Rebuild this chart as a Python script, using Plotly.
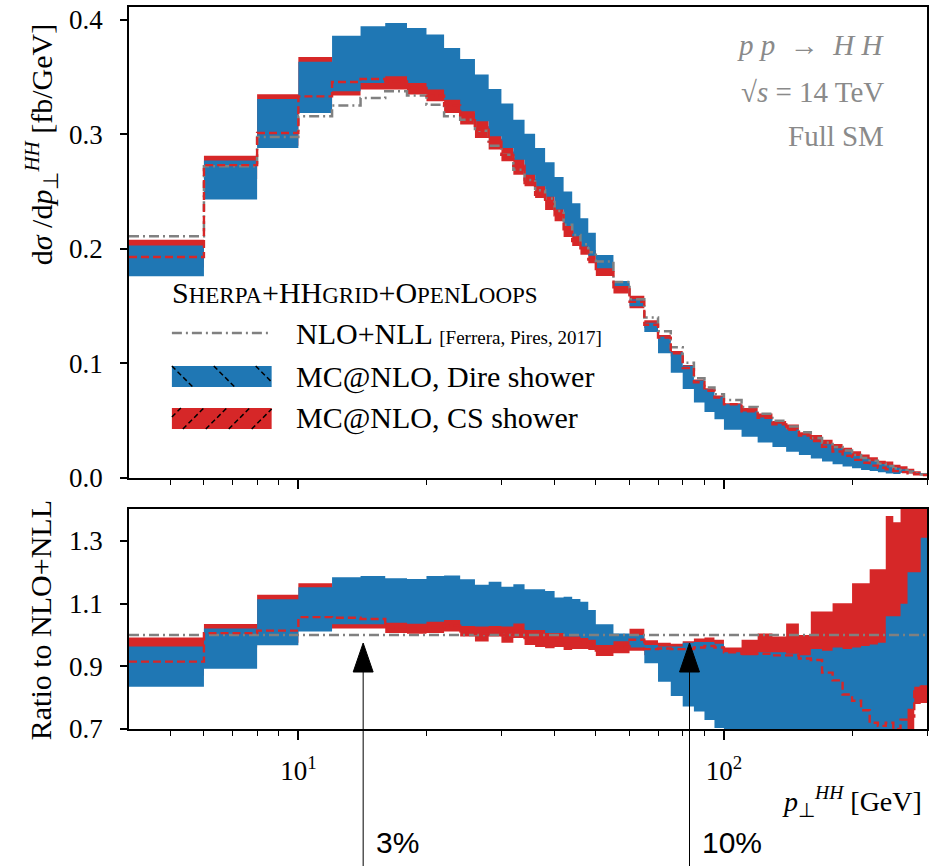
import math
import plotly.graph_objects as go

# ---------------------------------------------------------------- data
# bin edges in p_T^HH [GeV]
pt_edges = [4, 6, 8, 10, 12, 14, 16, 18, 20, 22, 24, 26, 28, 30, 32, 34, 36, 38, 40,
            42, 44, 46, 48, 50, 55, 60, 65, 70, 75, 80, 85, 90, 95, 100, 110, 120,
            130, 140, 150, 160, 170, 180, 190, 200, 210, 220, 230, 240, 250, 260,
            270, 280, 290, 300]

# NLO+NLL reference [fb/GeV]
nll_xsec = [0.211, 0.272, 0.2976, 0.3156, 0.325, 0.3316, 0.3375, 0.3337, 0.3258, 0.3156,
            0.3127, 0.303, 0.290, 0.282, 0.269, 0.260, 0.251, 0.244, 0.233, 0.221,
            0.212, 0.204, 0.197, 0.189, 0.171, 0.156, 0.140, 0.128, 0.114, 0.1005,
            0.087, 0.079, 0.073, 0.068, 0.062, 0.056, 0.050, 0.045, 0.040, 0.035,
            0.031, 0.027, 0.024, 0.020, 0.0175, 0.015, 0.0125, 0.0105, 0.0085, 0.007,
            0.0055, 0.004, 0.003]

# MC@NLO + Dire shower, uncertainty band [fb/GeV]
dire_hi = [0.2028, 0.277, 0.3308, 0.3633, 0.386, 0.3942, 0.397, 0.3927, 0.387, 0.3753,
           0.3657, 0.352, 0.3395, 0.3267, 0.3127, 0.3005, 0.288, 0.2755, 0.2627, 0.250,
           0.2398, 0.2266, 0.214, 0.1945, 0.1719, 0.156, 0.1355, 0.1233, 0.1098, 0.098,
           0.0851, 0.0773, 0.071, 0.0643, 0.058, 0.0529, 0.0473, 0.0423, 0.0374, 0.0334,
           0.0295, 0.0259, 0.0229, 0.0192, 0.0169, 0.0146, 0.0122, 0.0111, 0.009, 0.0077,
           0.0066, 0.0048, 0.0039]
dire_lo = [0.176, 0.243, 0.288, 0.3186, 0.3375, 0.3447, 0.3506, 0.3447, 0.339, 0.330,
           0.320, 0.3113, 0.2982, 0.288, 0.2778, 0.2647, 0.2546, 0.2455, 0.2344, 0.2199,
           0.2109, 0.202, 0.194, 0.183, 0.1676, 0.1498, 0.1274, 0.1089, 0.0918, 0.0776,
           0.0658, 0.0576, 0.0513, 0.042, 0.036, 0.031, 0.027, 0.023, 0.020, 0.017,
           0.0145, 0.012, 0.010, 0.0085, 0.007, 0.006, 0.005, 0.004, 0.0035, 0.0045,
           0.0042, 0.0033, 0.0025]

# MC@NLO + CS shower, uncertainty band and central value [fb/GeV]
cs_hi = [0.208, 0.2813, 0.3348, 0.3674, 0.354, 0.358, 0.361, 0.355, 0.3486, 0.3393,
         0.3315, 0.318, 0.307, 0.296, 0.285, 0.270, 0.261, 0.251, 0.240, 0.2254,
         0.2162, 0.207, 0.199, 0.187, 0.170, 0.159, 0.1376, 0.1248, 0.1108, 0.0985,
         0.086, 0.0784, 0.0719, 0.0653, 0.0611, 0.0563, 0.0498, 0.0467, 0.040, 0.0376,
         0.0333, 0.0297, 0.0264, 0.0233, 0.0204, 0.0182, 0.0151, 0.0145, 0.0116, 0.0102,
         0.008, 0.0058, 0.0044]
cs_lo = [0.1836, 0.261, 0.290, 0.322, 0.3337, 0.339, 0.339, 0.3346, 0.3287, 0.3186,
         0.3084, 0.2967, 0.2866, 0.2764, 0.2647, 0.2546, 0.2444, 0.2338, 0.2241, 0.2104,
         0.2025, 0.1948, 0.1875, 0.1763, 0.161, 0.1482, 0.1309, 0.119, 0.106, 0.094,
         0.0818, 0.0747, 0.0686, 0.0626, 0.0564, 0.051, 0.045, 0.0405, 0.0352, 0.0301,
         0.0257, 0.0216, 0.0182, 0.0148, 0.0124, 0.0102, 0.0084, 0.0069, 0.0056, 0.0048,
         0.0039, 0.0031, 0.0023]
cs_mid = [0.1929, 0.273, 0.3011, 0.333, 0.3456, 0.3482, 0.346, 0.3404, 0.3336, 0.325,
          0.3165, 0.3039, 0.2935, 0.282, 0.2725, 0.2574, 0.2472, 0.2391, 0.2293, 0.215,
          0.2067, 0.1983, 0.1907, 0.1796, 0.1645, 0.1537, 0.1337, 0.1225, 0.1089, 0.096,
          0.0835, 0.0762, 0.0701, 0.0643, 0.0583, 0.0526, 0.0468, 0.0421, 0.037, 0.0322,
          0.0273, 0.0231, 0.0194, 0.0158, 0.0133, 0.0108, 0.0089, 0.0076, 0.006, 0.0051,
          0.0041, 0.0033, 0.0025]

# ratios to NLO+NLL
dire_hi_ratio = [0.963, 1.021, 1.114, 1.152, 1.184, 1.188, 1.181, 1.179, 1.188, 1.190,
                 1.178, 1.160, 1.170, 1.154, 1.162, 1.146, 1.146, 1.140, 1.120, 1.122,
                 1.115, 1.106, 1.080, 1.034, 1.005, 1.000, 0.968, 0.963, 0.963, 0.975,
                 0.978, 0.978, 0.972, 0.945, 0.935, 0.945, 0.945, 0.940, 0.935, 0.955,
                 0.950, 0.960, 0.955, 0.960, 0.965, 0.970, 0.975, 1.060, 1.060, 1.100,
                 1.200, 1.200, 1.310]
dire_lo_ratio = [0.835, 0.892, 0.967, 1.011, 1.034, 1.034, 1.039, 1.036, 1.042, 1.048,
                 1.029, 1.027, 1.029, 1.027, 1.037, 1.016, 1.016, 1.006, 1.006, 0.995,
                 0.995, 0.990, 0.985, 0.968, 0.980, 0.960, 0.910, 0.851, 0.805, 0.772,
                 0.756, 0.729, 0.703, 0.62, 0.58, 0.55, 0.54, 0.51, 0.50, 0.49,
                 0.47, 0.44, 0.42, 0.43, 0.40, 0.40, 0.40, 0.38, 0.41, 0.66,
                 0.765, 0.835, 0.840]
cs_hi_ratio = [0.992, 1.035, 1.128, 1.165, 1.090, 1.080, 1.070, 1.065, 1.070, 1.075,
               1.060, 1.050, 1.060, 1.050, 1.060, 1.040, 1.040, 1.030, 1.030, 1.020,
               1.020, 1.015, 1.010, 0.990, 0.995, 1.020, 0.983, 0.975, 0.972, 0.980,
               0.989, 0.992, 0.985, 0.960, 0.985, 1.005, 0.995, 1.037, 1.000, 1.075,
               1.075, 1.101, 1.101, 1.165, 1.165, 1.210, 1.210, 1.380, 1.360, 1.450,
               1.450, 1.450, 1.450]
cs_lo_ratio = [0.870, 0.960, 0.975, 1.020, 1.021, 1.021, 1.006, 1.004, 1.006, 1.011,
               0.995, 0.979, 0.995, 0.975, 0.990, 0.968, 0.962, 0.958, 0.962, 0.952,
               0.955, 0.955, 0.952, 0.933, 0.942, 0.950, 0.935, 0.930, 0.930, 0.935,
               0.940, 0.945, 0.940, 0.920, 0.910, 0.910, 0.900, 0.900, 0.880, 0.860,
               0.830, 0.800, 0.760, 0.740, 0.710, 0.680, 0.670, 0.660, 0.660, 0.680,
               0.700, 0.780, 0.783]
cs_mid_ratio = [0.915, 1.006, 1.014, 1.057, 1.055, 1.051, 1.025, 1.020, 1.024, 1.030,
                1.012, 1.003, 1.012, 1.000, 1.013, 0.990, 0.985, 0.980, 0.984, 0.973,
                0.975, 0.972, 0.968, 0.950, 0.962, 0.985, 0.955, 0.957, 0.955, 0.955,
                0.960, 0.965, 0.960, 0.945, 0.940, 0.940, 0.935, 0.935, 0.925, 0.920,
                0.880, 0.855, 0.810, 0.790, 0.760, 0.720, 0.710, 0.720, 0.700, 0.730,
                0.740, 0.825, 0.835]
nll_ratio = [1.0] * len(nll_xsec)

# markers below the ratio panel
marker_pt = [14.2, 83.0]
marker_text = ["3%", "10%"]

# ---------------------------------------------------------------- style
BLUE = "#1f77b4"
RED = "#d62728"
GREY = "#808080"
TXT_GREY = "#8a8a8a"
SERIF = "Liberation Serif"
SANS = "Liberation Sans"

W, H = 933, 866
ML, MR, MT, MB = 129, 4, 7, 137
PW, PH = W - ML - MR, H - MT - MB
XMIN, XMAX = 4, 300


def fx(px):
    return (px - ML) / PW


def fy(py):
    return (H - MB - py) / PH


def xfrac(v):
    return (math.log10(v) - math.log10(XMIN)) / (math.log10(XMAX) - math.log10(XMIN))


def stepped(vals):
    return list(vals) + [vals[-1]]


fig = go.Figure()


def add_panel(xa, ya, c_lo, c_hi, d_lo, d_hi, ref, c_mid):
    common = dict(x=pt_edges, mode="lines", xaxis=xa, yaxis=ya, hoverinfo="skip")
    fig.add_trace(go.Scatter(y=stepped(c_lo), line=dict(width=0, shape="hv", color=RED), **common))
    fig.add_trace(go.Scatter(y=stepped(c_hi), line=dict(width=0, shape="hv", color=RED),
                             fill="tonexty", fillcolor=RED, **common))
    fig.add_trace(go.Scatter(y=stepped(d_lo), line=dict(width=0, shape="hv", color=BLUE), **common))
    fig.add_trace(go.Scatter(y=stepped(d_hi), line=dict(width=0, shape="hv", color=BLUE),
                             fill="tonexty", fillcolor=BLUE, **common))
    fig.add_trace(go.Scatter(y=stepped(ref), line=dict(width=2.5, shape="hv", color=GREY,
                                                       dash="10px,4px,2px,4px"), **common))
    fig.add_trace(go.Scatter(y=stepped(c_mid), line=dict(width=2.4, shape="hv", color=RED,
                                                         dash="8px,4px"), **common))


add_panel("x", "y", cs_lo, cs_hi, dire_lo, dire_hi, nll_xsec, cs_mid)
add_panel("x2", "y2", cs_lo_ratio, cs_hi_ratio, dire_lo_ratio, dire_hi_ratio, nll_ratio, cs_mid_ratio)

minor_vals = [5, 6, 7, 8, 9, 20, 30, 40, 50, 60, 70, 80, 90, 200, 300]
xcommon = dict(type="log", range=[math.log10(XMIN), math.log10(XMAX)], domain=[0, 1],
               tickvals=[10, 100], ticks="outside", ticklen=9, tickwidth=1.5,
               tickcolor="black", showline=True, linecolor="black", linewidth=1.5,
               mirror=True, showgrid=False, zeroline=False,
               minor=dict(tickvals=minor_vals, ticks="outside", ticklen=5,
                          tickwidth=1.2, tickcolor="black", showgrid=False))
ycommon = dict(ticks="outside", ticklen=7, tickwidth=1.5, tickcolor="black",
               showline=True, linecolor="black", linewidth=1.5, mirror=True,
               showgrid=False, zeroline=False, ticklabelstandoff=12,
               tickfont=dict(family=SERIF, size=27, color="black"))

fig.update_layout(
    width=W, height=H,
    margin=dict(l=ML, r=MR, t=MT, b=MB),
    plot_bgcolor="white", paper_bgcolor="white",
    showlegend=False,
    font=dict(family=SERIF, size=27, color="black"),
    xaxis=dict(anchor="y", showticklabels=False, **xcommon),
    yaxis=dict(domain=[fy(478), 1.0], range=[0, 0.411],
               tickvals=[0, 0.1, 0.2, 0.3, 0.4],
               ticktext=["0.0", "0.1", "0.2", "0.3", "0.4"], **ycommon),
    xaxis2=dict(anchor="y2", ticktext=["10<sup>1</sup>", "10<sup>2</sup>"],
                tickfont=dict(family=SERIF, size=27, color="black"),
                ticklabelstandoff=8, **xcommon),
    yaxis2=dict(domain=[0, fy(509)], range=[0.7, 1.402],
                tickvals=[0.7, 0.9, 1.1, 1.3],
                ticktext=["0.7", "0.9", "1.1", "1.3"], **ycommon),
)

ann = []
shapes = []

# axis titles
ann.append(dict(text="d<i>σ</i> /d<i>p</i><sub>⊥</sub><sup><i>HH</i></sup> [fb/GeV]",
                x=fx(42), y=fy(145), xref="paper", yref="paper", textangle=-90,
                showarrow=False, xanchor="center", yanchor="middle",
                font=dict(family=SERIF, size=30)))
ann.append(dict(text="Ratio to NLO+NLL", x=fx(40), y=fy(620), xref="paper", yref="paper",
                textangle=-90, showarrow=False, xanchor="center", yanchor="middle",
                font=dict(family=SERIF, size=30)))
ann.append(dict(text="<i>p</i><sub>⊥</sub><sup><i>HH</i></sup> [GeV]", x=fx(926), y=fy(801),
                xref="paper", yref="paper", showarrow=False, xanchor="right",
                yanchor="middle", font=dict(family=SERIF, size=28)))

# process labels
for txt, yp in [("<i>p p</i>  →  <i>H H</i>", 45), ("√<i>s</i> = 14 TeV", 92), ("Full SM", 136)]:
    ann.append(dict(text=txt, x=fx(888), y=fy(yp), xref="paper", yref="paper",
                    showarrow=False, xanchor="right", yanchor="middle",
                    font=dict(family=SERIF, size=29, color=TXT_GREY)))

# legend
small = "<span style='font-size:23px'>"
ann.append(dict(text=f"S{small}HERPA</span>+HH{small}GRID</span>+O{small}PEN</span>L{small}OOPS</span>",
                x=fx(170), y=fy(292), xref="paper", yref="paper", showarrow=False,
                xanchor="left", yanchor="middle", font=dict(family=SERIF, size=30)))
ann.append(dict(text="NLO+NLL <span style='font-size:19px'>[Ferrera, Pires, 2017]</span>",
                x=fx(294), y=fy(333), xref="paper", yref="paper", showarrow=False,
                xanchor="left", yanchor="middle", font=dict(family=SERIF, size=30)))
ann.append(dict(text="MC@NLO, Dire shower", x=fx(294), y=fy(377), xref="paper", yref="paper",
                showarrow=False, xanchor="left", yanchor="middle", font=dict(family=SERIF, size=30)))
ann.append(dict(text="MC@NLO, CS shower", x=fx(294), y=fy(418), xref="paper", yref="paper",
                showarrow=False, xanchor="left", yanchor="middle", font=dict(family=SERIF, size=30)))

shapes.append(dict(type="line", xref="paper", yref="paper", x0=fx(172), x1=fx(272),
                   y0=fy(333), y1=fy(333),
                   line=dict(color=GREY, width=2.5, dash="10px,4px,2px,4px")))


def legend_box(x0, x1, y0, y1, color, spacing, forward, start):
    shapes.append(dict(type="rect", xref="paper", yref="paper", x0=fx(x0), x1=fx(x1),
                       y0=fy(y1), y1=fy(y0), fillcolor=color, line=dict(width=0)))
    h = y1 - y0
    c = start
    while c < x1:
        t0 = max(0.0, (x0 - c) / h)
        t1 = min(1.0, (x1 - c) / h)
        if t1 > t0:
            if forward:   # '/'
                pa = (c + t0 * h, y1 - t0 * h)
                pb = (c + t1 * h, y1 - t1 * h)
            else:         # '\'
                pa = (c + t0 * h, y0 + t0 * h)
                pb = (c + t1 * h, y0 + t1 * h)
            shapes.append(dict(type="line", xref="paper", yref="paper",
                               x0=fx(pa[0]), y0=fy(pa[1]), x1=fx(pb[0]), y1=fy(pb[1]),
                               line=dict(color="black", width=1.5, dash="5px,3px")))
        c += spacing


legend_box(172, 272, 366, 387, BLUE, 42, False, 130)
legend_box(172, 272, 408, 429, RED, 23, True, 160)

# arrows marking the 3% and 10% points
for pt, txt in zip(marker_pt, marker_text):
    xp = xfrac(pt)
    half = 10 / PW
    shapes.append(dict(type="line", xref="paper", yref="paper", x0=xp, x1=xp,
                       y0=fy(672), y1=fy(866), line=dict(color="black", width=1)))
    shapes.append(dict(type="path", xref="paper", yref="paper",
                       path=f"M {xp - half},{fy(672)} L {xp + half},{fy(672)} L {xp},{fy(643)} Z",
                       fillcolor="black", line=dict(color="black", width=1)))
    ann.append(dict(text=txt, x=xp + 11 / PW, y=fy(842), xref="paper", yref="paper",
                    showarrow=False, xanchor="left", yanchor="middle",
                    font=dict(family=SANS, size=30, color="black")))

fig.update_layout(annotations=ann, shapes=shapes)
fig.write_html("out.html")
